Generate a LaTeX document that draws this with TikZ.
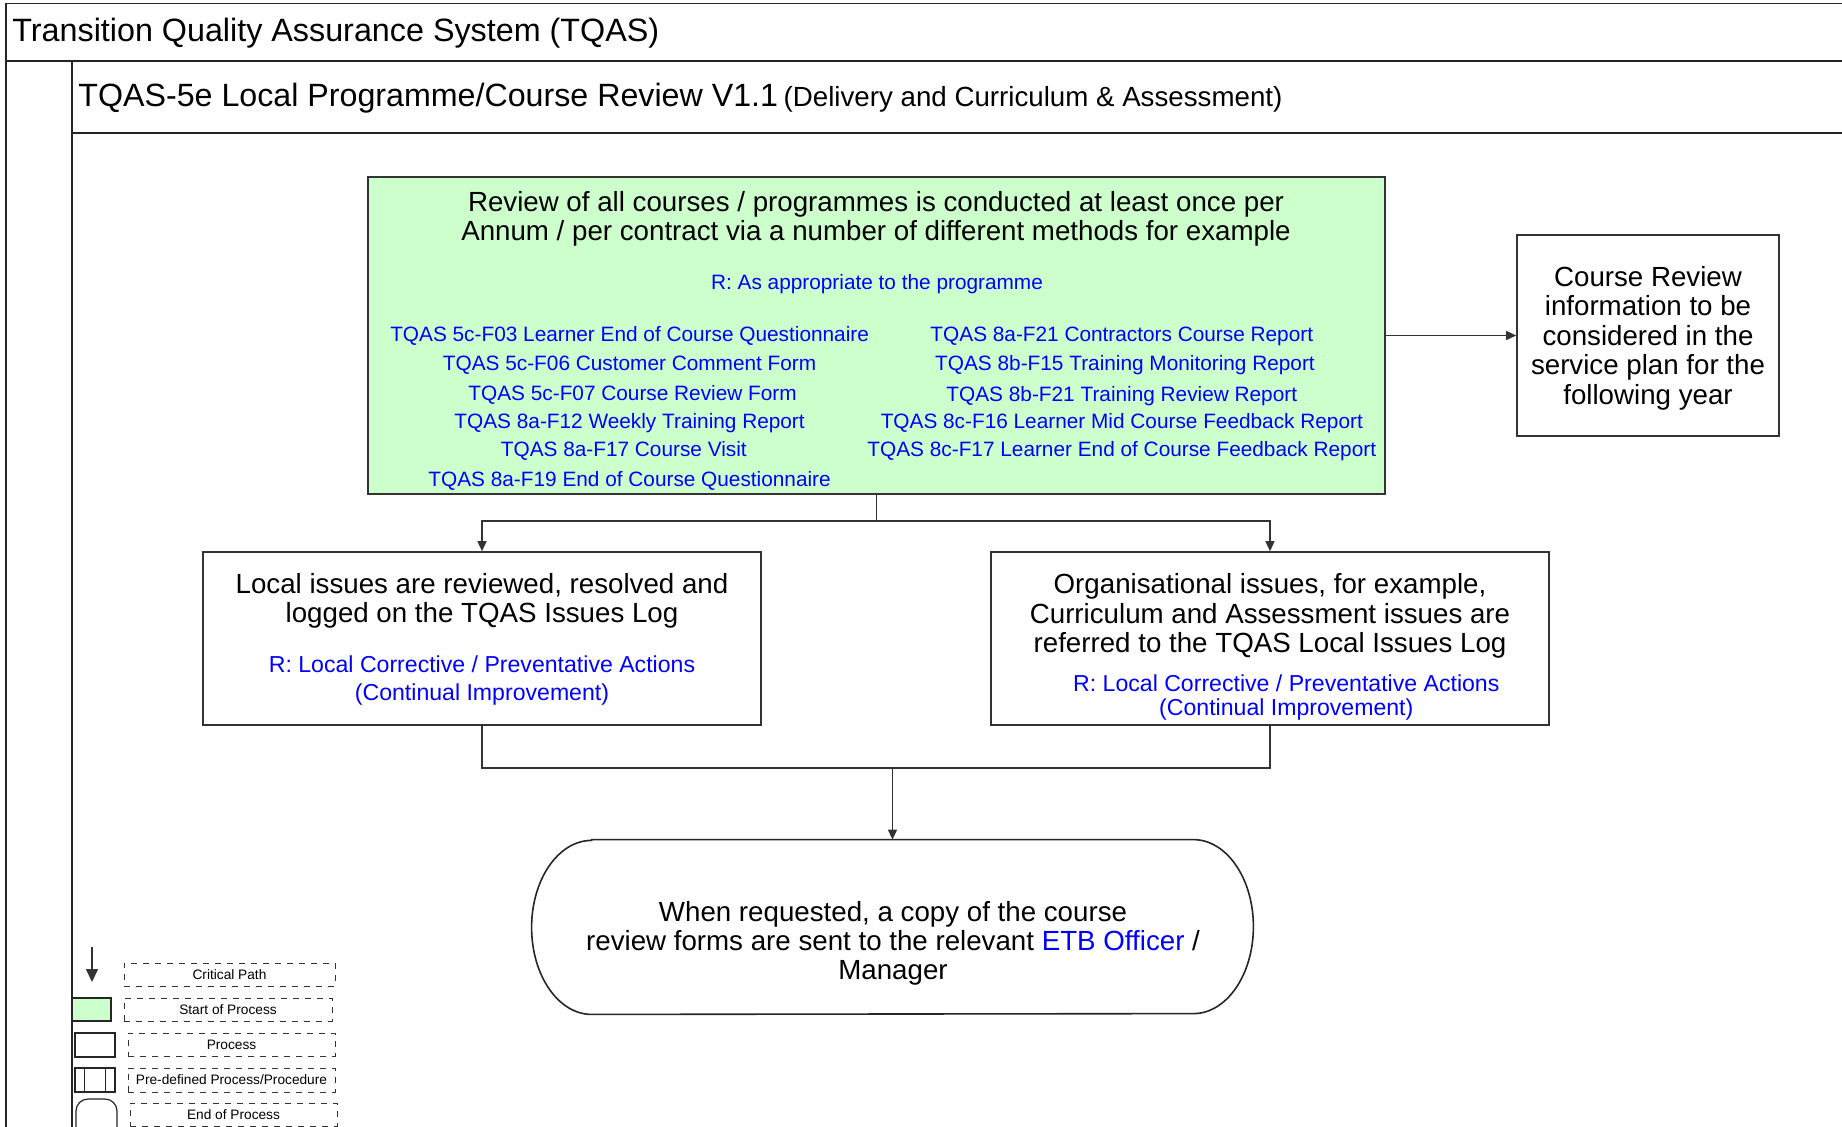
\documentclass[tikz,border=0pt]{standalone}
\usepackage{fontspec}
\setmainfont{Liberation Sans}
\usetikzlibrary{arrows.meta}
\definecolor{startgreen}{HTML}{CCFFCC}
\definecolor{refblue}{RGB}{0,0,255}
\newcommand{\fsz}[2]{\fontsize{#1}{#2}\selectfont}
\begin{document}
\begin{tikzpicture}[x=0.5pt,y=-0.5pt,
  frameline/.style={draw=black!85, line width=0.9pt},
  procbox/.style={draw=black!80, line width=0.8pt, inner sep=0pt},
  conn/.style={draw=black!80, line width=0.7pt},
  arr/.style={conn, -{Triangle[length=5pt,width=4.5pt]}},
  txtshift/.style={yshift=-1.2pt},
  maintext/.style={txtshift, font=\fsz{13.85pt}{14.5pt}, align=center, inner sep=0pt},
  bluetext/.style={txtshift, text=refblue, align=center, inner sep=0pt},
  listtext/.style={txtshift, text=refblue, font=\fsz{10.4pt}{12pt}, inner sep=0pt},
  legbox/.style={draw=black!80, dashed, line width=0.5pt, inner sep=0pt, font=\fsz{6.85pt}{8pt}},
  legshape/.style={draw=black!85, line width=0.6pt, inner sep=0pt}
]
\useasboundingbox (0,0) rectangle (1842,1126);
\fill[white] (0,0) rectangle (1842,1126);
\clip (0,0) rectangle (1842,1126);

% frame
\draw[frameline] (1842,3.5) -- (6,3.5) -- (6,1130);
\draw[frameline] (6,61) -- (1842,61);
\draw[frameline] (72,61) -- (72,1130);
\draw[frameline] (72,133) -- (1842,133);
\node[txtshift, anchor=west, inner sep=0pt, font=\fsz{16.15pt}{18pt}] (ttl) at (12,31) {Transition Quality Assurance System (TQAS)};
\node[txtshift, anchor=west, inner sep=0pt] (sub) at (78,96)
  {{\fsz{16.1pt}{18pt}TQAS-5e Local Programme/Course Review V1.1} {\fsz{13.85pt}{16pt}(Delivery and Curriculum \& Assessment)}};

% start box
\node[procbox, fill=startgreen, minimum width=508.5pt, minimum height=158.5pt] (start) at (876.5,335.5) {};
\node[maintext] (starttxt) at (876,216.5) {Review of all courses / programmes is conducted at least once per\\Annum / per contract via a number of different methods for example};
\node[listtext] (rapp) at (877,282) {R: As appropriate to the programme};
\node[listtext] (l1) at (629.6,333.6) {TQAS 5c-F03 Learner End of Course Questionnaire};
\node[listtext] (l2) at (629.6,363) {TQAS 5c-F06 Customer Comment Form};
\node[listtext] (l3) at (632.6,392.3) {TQAS 5c-F07 Course Review Form};
\node[listtext] (l4) at (629.6,420.5) {TQAS 8a-F12 Weekly Training Report};
\node[listtext] (l5) at (623.8,448.7) {TQAS 8a-F17 Course Visit};
\node[listtext] (l6) at (629.6,478.1) {TQAS 8a-F19 End of Course Questionnaire};
\node[listtext] (r1) at (1121.8,333.6) {TQAS 8a-F21 Contractors Course Report};
\node[listtext] (r2) at (1125,363) {TQAS 8b-F15 Training Monitoring Report};
\node[listtext] (r3) at (1121.8,393.5) {TQAS 8b-F21 Training Review Report};
\node[listtext] (r4) at (1121.8,420.5) {TQAS 8c-F16 Learner Mid Course Feedback Report};
\node[listtext] (r5) at (1121.8,448.7) {TQAS 8c-F17 Learner End of Course Feedback Report};

% course review box
\node[procbox, minimum width=131pt, minimum height=100.5pt] (review) at (1648,335.5) {};
\node[maintext, font=\fsz{13.85pt}{14.75pt}] (reviewtxt) at (1648,335.5)
  {Course Review\\information to be\\considered in the\\service plan for the\\following year};

% local and organisational boxes
\node[procbox, minimum width=279pt, minimum height=86.5pt] (local) at (482,638.5) {};
\node[maintext] (localtxt) at (482,598.5) {Local issues are reviewed, resolved and\\logged on the TQAS Issues Log};
\node[bluetext, font=\fsz{11.55pt}{14pt}] (localr) at (482,678) {R: Local Corrective / Preventative Actions\\(Continual Improvement)};

\node[procbox, minimum width=279pt, minimum height=86.5pt] (org) at (1270,638.5) {};
\node[maintext, font=\fsz{13.85pt}{14.65pt}] (orgtxt) at (1270,613.5) {Organisational issues, for example,\\Curriculum and Assessment issues are\\referred to the TQAS Local Issues Log};
\node[bluetext, font=\fsz{11.55pt}{12.35pt}] (orgr) at (1286.3,695) {R: Local Corrective / Preventative Actions\\(Continual Improvement)};

% end terminal
\node[inner sep=0pt, minimum width=360.5pt, minimum height=87pt] (endp) at (892.5,927) {};
\draw[draw=black!85, line width=0.8pt]
  ([xshift=30pt]endp.north west) -- ([xshift=-30pt]endp.north east)
  arc[start angle=90, end angle=-90, x radius=30pt, y radius=43.5pt]
  -- ([xshift=30pt]endp.south west)
  arc[start angle=270, end angle=90, x radius=30pt, y radius=43.5pt] -- cycle;
\node[maintext, font=\fsz{13.85pt}{14.65pt}] (endtxt) at (893,941)
  {When requested, a copy of the course\\review forms are sent to the relevant \textcolor{refblue}{ETB Officer} /\\Manager};

% connectors
\draw[arr] (start.east) -- (review.west);
\coordinate (j1) at (876.5,521);
\draw[conn] (start.south) -- (j1);
\draw[arr] (j1) -| (local.north);
\draw[arr] (j1) -| (org.north);
\coordinate (j2) at (892.5,768);
\draw[conn] (local.south) |- (j2) -| (org.south);
\draw[arr] (j2) -- (endp.north);

% legend
\coordinate (la1) at (92,947);
\coordinate (la2) at (92,982);
\draw[conn, line width=0.8pt, -{Triangle[length=6.5pt,width=6pt]}] (la1) -- (la2);
\node[legbox, minimum width=105.5pt, minimum height=11.5pt] (lcrit) at (229.5,974.5) {Critical Path};
\node[legshape, fill=startgreen, minimum width=19.5pt, minimum height=11.5pt] (lstart) at (91.5,1009.5) {};
\node[legbox, minimum width=104pt, minimum height=11.5pt] (lstarttxt) at (228,1009.5) {Start of Process};
\node[legshape, minimum width=20pt, minimum height=12pt] (lproc) at (95,1045) {};
\node[legbox, minimum width=103.5pt, minimum height=11.5pt] (lproctxt) at (231.5,1044.5) {Process};
\node[legshape, minimum width=20pt, minimum height=12pt] (lpre) at (95,1080) {};
\draw[legshape] ([xshift=5pt]lpre.north west) -- ([xshift=5pt]lpre.south west);
\draw[legshape] ([xshift=-5pt]lpre.north east) -- ([xshift=-5pt]lpre.south east);
\node[legbox, minimum width=103.5pt, minimum height=12pt] (lpretxt) at (231.5,1080) {Pre-defined Process/Procedure};
\node[legshape, rounded corners=6pt, minimum width=20.5pt, minimum height=20pt] (lend) at (96.5,1119) {};
\node[legbox, minimum width=103.5pt, minimum height=11.5pt] (lendtxt) at (233.5,1114.5) {End of Process};
\end{tikzpicture}
\end{document}
